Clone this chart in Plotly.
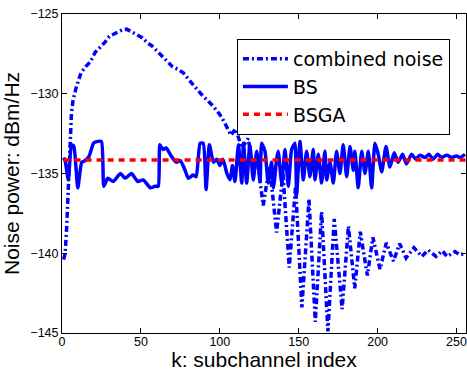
import plotly.graph_objects as go

# combined noise (k, dBm/Hz)
noise_k = [1, 2, 3, 4, 5, 6, 7, 9, 12, 15, 18, 21, 24, 27, 30, 34, 38, 41, 44, 47, 51, 54, 57,
           60, 63, 66, 70, 74, 77, 81, 85, 88, 92, 96, 100, 103, 107, 110, 114, 118, 121, 123.5,
           127.5, 131.5, 136, 140, 144, 148, 152, 156.5, 160.5, 164.5, 168.5, 172.5, 177.5,
           181.5, 185.5, 189, 193.5, 197, 201.5, 205.5, 210, 214, 218, 223, 228, 232, 237,
           241, 244, 249, 252, 256]
noise_v = [-140.4, -140.0, -138.3, -135.8, -133.0, -131.2, -130.4, -129.6, -128.7, -128.3,
           -128.0, -127.4, -127.1, -126.8, -126.4, -126.2, -126.0, -125.95, -126.1, -126.3,
           -126.5, -126.8, -127.0, -127.3, -127.6, -127.9, -128.3, -128.5, -128.7, -129.2,
           -129.7, -130.0, -130.4, -130.8, -131.3, -131.8, -132.6, -132.2, -133.4, -132.8,
           -134.6, -134.0, -137.0, -134.5, -138.7, -135.0, -140.9, -135.8, -143.4, -136.6,
           -144.3, -137.4, -144.9, -137.85, -143.5, -138.3, -142.2, -138.65, -141.4, -139.0,
           -141.0, -139.35, -140.5, -139.4, -140.3, -139.65, -140.2, -139.8, -140.2, -139.85,
           -140.2, -139.9, -140.1, -140.0]

# BS
bs_k = [1, 2, 4, 6, 7.5, 10, 12.5, 14.5, 17, 20, 22, 25, 26.5, 29, 32.5, 37, 40, 44, 48, 51.5,
        56, 59, 61, 62, 64, 66, 69.5, 72.5, 75, 78, 80, 83, 85, 87.5, 89.5, 91.3, 93.4, 96, 98,
        100, 102, 104.5, 106.5, 108, 109.6, 111.8, 113.9, 115, 117, 119, 121.2, 123.4, 125.5,
        126.5, 128.6, 130.7, 132.8, 134, 136, 137, 139.2, 141.3, 143.4, 145.5, 147.6, 148.7,
        150.8, 152.9, 155, 157.1, 159.2, 160.3, 162.4, 164.5, 166.6, 167.7, 169.8, 171.9, 174,
        176.1, 178.2, 180.4, 182.5, 184.6, 185.6, 187.7, 189.9, 192, 194.1, 196.2, 198.3,
        200.4, 202.6, 205.3, 207.8, 210.5, 213, 215.8, 218.3, 221.5, 224.2, 226.8, 230, 232.5,
        235.2, 238, 240.6, 243.7, 246.9, 250, 252.2, 255.4]
bs_v = [-134.0, -134.2, -135.4, -133.2, -133.3, -135.9, -134.3, -134.2, -133.95, -133.1, -133.0,
        -133.0, -135.8, -135.3, -135.5, -135.0, -135.3, -135.0, -135.5, -135.4, -135.9, -135.8,
        -135.8, -133.2, -133.5, -133.4, -133.95, -134.3, -134.2, -134.8, -135.3, -135.1, -135.2,
        -133.1, -133.1, -136.0, -133.2, -134.3, -134.1, -134.5, -134.1, -135.0, -135.4, -134.5,
        -135.5, -133.2, -135.6, -133.1, -135.6, -133.2, -135.4, -133.6, -135.5, -133.1, -133.6,
        -135.6, -134.3, -135.9, -134.1, -133.6, -135.6, -133.5, -135.8, -133.5, -133.1, -136.3,
        -133.0, -135.4, -133.6, -135.2, -133.5, -135.4, -133.8, -135.6, -133.6, -135.4, -134.3,
        -135.6, -133.6, -135.0, -133.2, -135.2, -133.3, -134.8, -133.6, -135.9, -133.6, -135.0,
        -133.6, -135.9, -133.1, -133.8, -134.9, -133.3, -134.6, -133.7, -134.3, -133.8, -134.4,
        -133.8, -134.1, -133.85, -134.0, -133.8, -134.1, -133.8, -134.0, -133.85, -134.0, -133.9,
        -134.0, -133.8]

# BSGA
bsga_k = [1, 256]
bsga_v = [-134.15, -134.15]

x_ticks = [0, 50, 100, 150, 200, 250]
y_ticks = [-145, -140, -135, -130, -125]

FONT = "Liberation Sans, Arial, Helvetica, sans-serif"
LEG_FONT = "DejaVu Sans, Liberation Sans, sans-serif"

fig = go.Figure()
fig.add_trace(go.Scatter(x=noise_k, y=noise_v, mode="lines", name="combined noise",
                         line=dict(color="#0000ff", width=3.5, dash="6px,3px,2px,3px")))
fig.add_trace(go.Scatter(x=bs_k, y=bs_v, mode="lines", name="BS",
                         line=dict(color="#0000ff", width=3.5, shape="spline", smoothing=0.5)))
fig.add_trace(go.Scatter(x=bsga_k, y=bsga_v, mode="lines", name="BSGA",
                         line=dict(color="#ff0000", width=3.5, dash="6px,5px")))

axis_common = dict(showgrid=False, zeroline=False, showline=True, linecolor="black",
                   linewidth=1, mirror="ticks", ticks="inside", ticklen=5,
                   tickcolor="black", ticklabeloverflow="allow",
                   tickfont=dict(family=FONT, size=12.5, color="black"))

fig.update_xaxes(range=[0, 256], tickvals=x_ticks, ticktext=[str(t) for t in x_ticks],
                 ticklabelstandoff=-3,
                 title=dict(text="k: subchannel index", font=dict(family=FONT, size=21, color="black"),
                            standoff=2),
                 **axis_common)
fig.update_yaxes(range=[-145, -125], tickvals=y_ticks,
                 ticktext=["\u2212" + str(abs(t)) for t in y_ticks],
                 title=dict(text="Noise power: dBm/Hz", font=dict(family=FONT, size=21, color="black"),
                            standoff=4),
                 **axis_common)

fig.update_layout(
    width=467, height=371,
    margin=dict(l=62, r=1, t=14, b=38, autoexpand=False),
    paper_bgcolor="white", plot_bgcolor="white",
    font=dict(family=FONT, color="black"),
    legend=dict(x=0.433, y=0.922, xanchor="left", yanchor="top", itemwidth=45,
                bgcolor="white", bordercolor="black", borderwidth=1,
                font=dict(family=LEG_FONT, size=19, color="black")),
)

fig.write_html("out.html", config={"displayModeBar": False},
               post_script="document.body.style.margin='0';")
